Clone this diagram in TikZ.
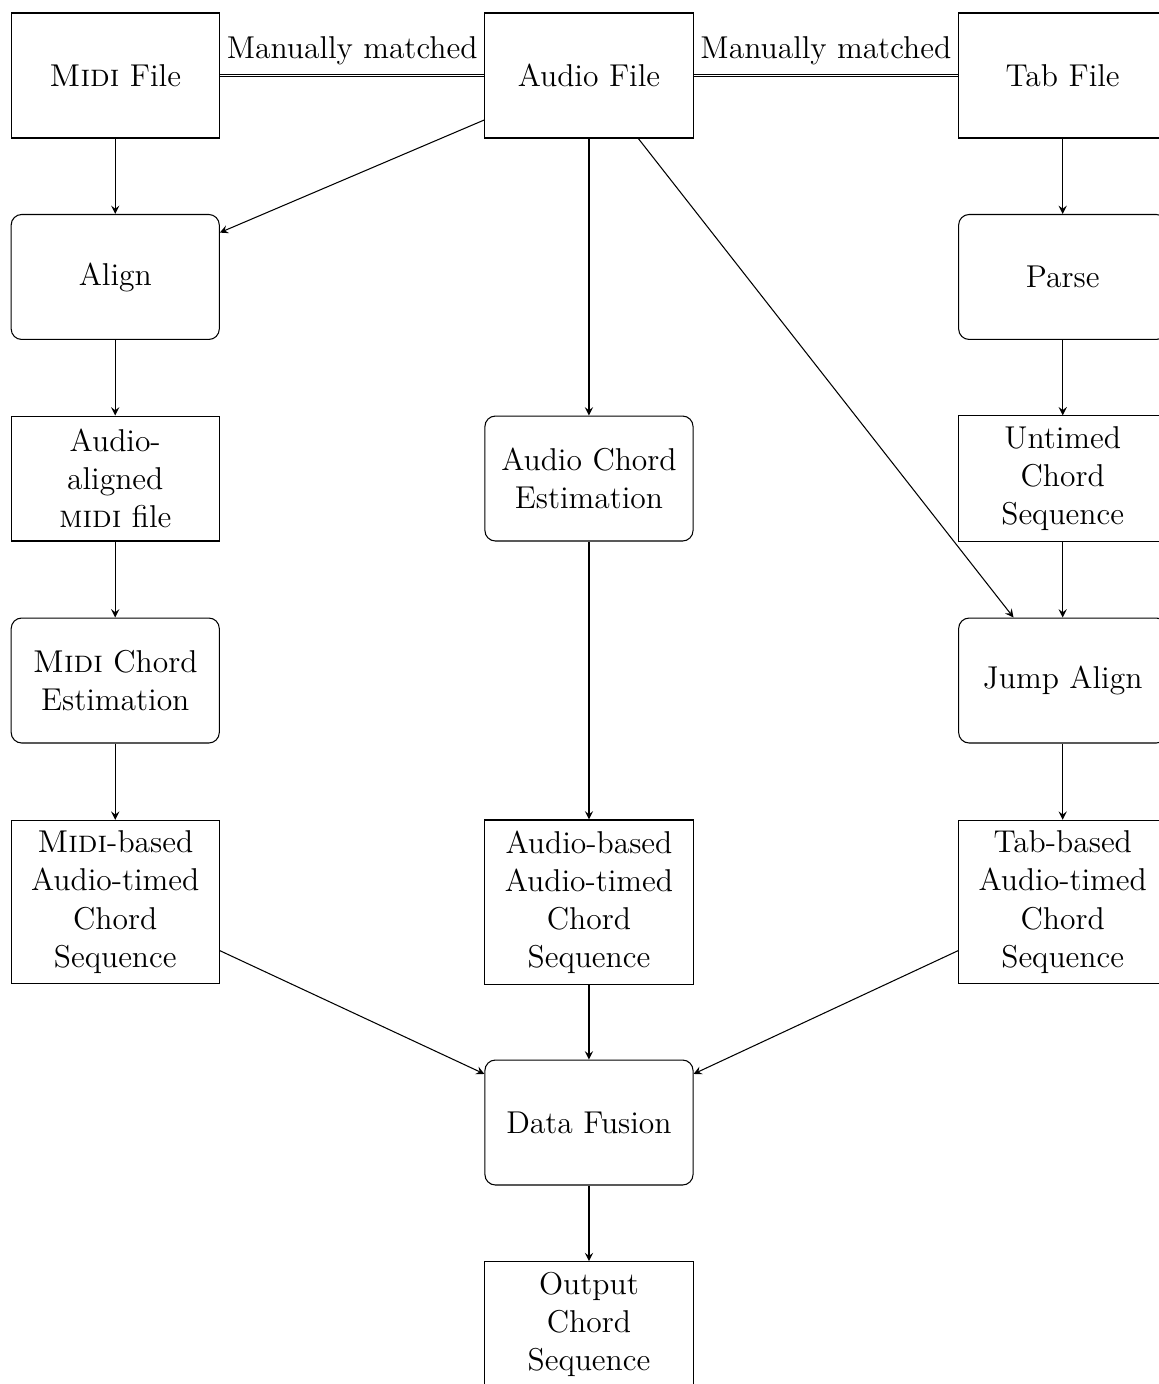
\documentclass[tikz,border=0pt,12pt]{standalone}
\tikzset{
	datanode/.style={draw, text width=2.5cm, align=center, minimum height=1.67cm},
	procnode/.style={datanode, rounded corners},
	>=stealth
}
\begin{document}
\begin{tikzpicture}
		\useasboundingbox (-7.87,1.009) rectangle (7.616,-17.484);
		% sources
		\node[datanode] (midifile) at (-6.33,0) {\textsc{Midi} File};
		\node[datanode] (audiofile) at (0,0) {Audio File};
		\node[datanode] (tabfile) at (6.33,0) {Tab File};
		% processing
		\node[procnode] (align) at (-6.33,-2.692) {Align};
		\node[procnode] (parse) at (6.33,-2.692) {Parse};
		\node[datanode] (alignedmidi) at (-6.33,-5.385) {Audio-aligned \textsc{midi} file};
		\node[procnode] (audiochord) at (0,-5.385) {Audio Chord Estimation};
		\node[datanode] (untimed) at (6.33,-5.385) {Untimed Chord Sequence};
		\node[procnode] (midichord) at (-6.33,-8.084) {\textsc{Midi} Chord Estimation};
		\node[procnode] (jumpalign) at (6.33,-8.084) {Jump Align};
		\node[datanode] (midibased) at (-6.33,-11.044) {\textsc{Midi}-based Audio-timed Chord Sequence};
		\node[datanode] (audiobased) at (0,-11.044) {Audio-based Audio-timed Chord Sequence};
		\node[datanode] (tabbased) at (6.33,-11.044) {Tab-based Audio-timed Chord Sequence};
		\node[procnode] (fusion) at (0,-13.99) {Data Fusion};
		\node[datanode] (output) at (0,-16.689) {Output Chord Sequence};
		% manual matches
		\draw[double] (midifile) -- node[above] {Manually matched} (audiofile);
		\draw[double] (audiofile) -- node[above] {Manually matched} (tabfile);
		% flow
		\draw[->] (midifile) -- (align);
		\draw[->] (audiofile) -- (align);
		\draw[->] (align) -- (alignedmidi);
		\draw[->] (alignedmidi) -- (midichord);
		\draw[->] (midichord) -- (midibased);
		\draw[->] (audiofile) -- (audiochord);
		\draw[->] (audiochord) -- (audiobased);
		\draw[->] (audiofile) -- (jumpalign);
		\draw[->] (tabfile) -- (parse);
		\draw[->] (parse) -- (untimed);
		\draw[->] (untimed) -- (jumpalign);
		\draw[->] (jumpalign) -- (tabbased);
		\draw[->] (midibased) -- (fusion);
		\draw[->] (audiobased) -- (fusion);
		\draw[->] (tabbased) -- (fusion);
		\draw[->] (fusion) -- (output);
	\end{tikzpicture}
\end{document}
